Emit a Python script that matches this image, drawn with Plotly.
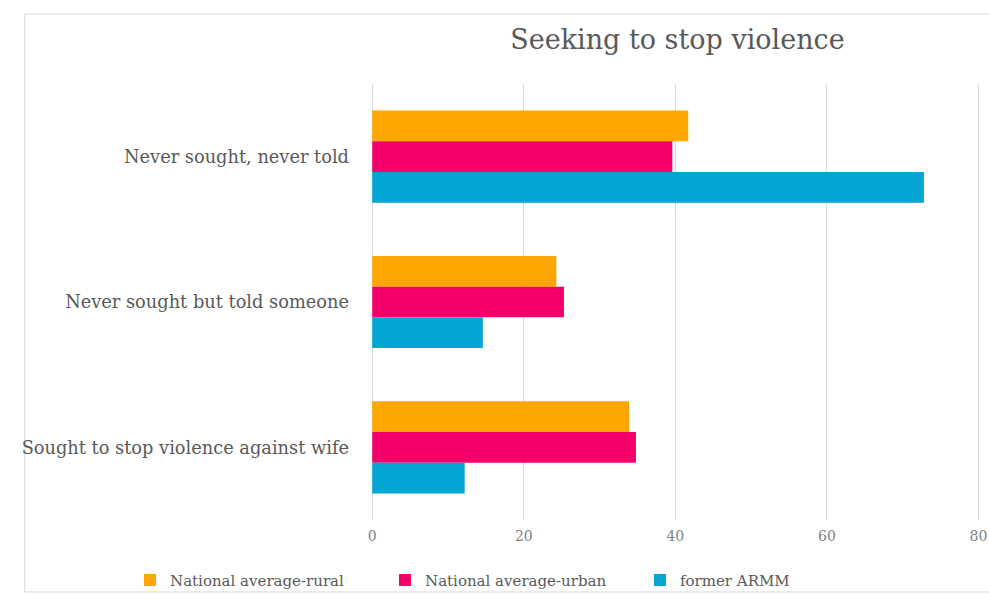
import plotly.graph_objects as go

# Survey categories (top to bottom) and shares (%) per population group
categories = [
    "Never sought, never told",
    "Never sought but told someone",
    "Sought to stop violence against wife",
]
rural = [41.7, 24.3, 33.9]
urban = [39.6, 25.3, 34.8]
armm = [72.8, 14.6, 12.2]

series_names = ["National average-rural", "National average-urban", "former ARMM"]
series_colors = ["#FDA602", "#F5006A", "#02A6D2"]
x_ticks = [0, 20, 40, 60, 80]

serif = "DejaVu Serif"

fig = go.Figure()
for name, vals, col in zip(series_names, [rural, urban, armm], series_colors):
    fig.add_trace(go.Bar(
        y=categories, x=vals, name=name, orientation="h",
        marker=dict(color=col, line=dict(width=0)),
    ))

# Light frame around the whole chart area
fig.add_shape(type="rect", xref="paper", yref="paper",
              x0=-0.571, x1=1.05, y0=-0.165, y1=1.1606,
              line=dict(color="#d9d9d9", width=1), fillcolor="rgba(0,0,0,0)",
              layer="below")

fig.update_layout(
    width=989, height=595,
    margin=dict(l=372, r=9, t=84, b=75, autoexpand=False),
    paper_bgcolor="white", plot_bgcolor="white",
    barmode="group", bargap=0.366, bargroupgap=0,
    title=dict(text="Seeking to stop violence", xref="container", yref="container",
               x=0.685, xanchor="center", y=0.933, yanchor="middle",
               font=dict(family=serif, size=27, color="#595959")),
    xaxis=dict(range=[-0.03, 80.2], tickvals=x_ticks, showgrid=True,
               gridcolor="#d9d9d9", gridwidth=1,
               zeroline=True, zerolinecolor="#d9d9d9", zerolinewidth=1,
               showline=False, ticks="", ticklabelstandoff=6,
               tickfont=dict(family=serif, size=14, color="#7f7f7f")),
    yaxis=dict(categoryorder="array", categoryarray=categories,
               autorange="reversed", showgrid=False, zeroline=False,
               showline=False, ticks="", ticklabelstandoff=22,
               tickfont=dict(family=serif, size=17.8, color="#595959")),
    legend=dict(orientation="h", x=-0.398, xanchor="left",
                y=-0.138, yanchor="middle", traceorder="normal",
                bgcolor="rgba(0,0,0,0)",
                font=dict(family=serif, size=15, color="#595959"),
                itemwidth=30, entrywidth=210),
    showlegend=True,
)

fig.write_html("out.html")
